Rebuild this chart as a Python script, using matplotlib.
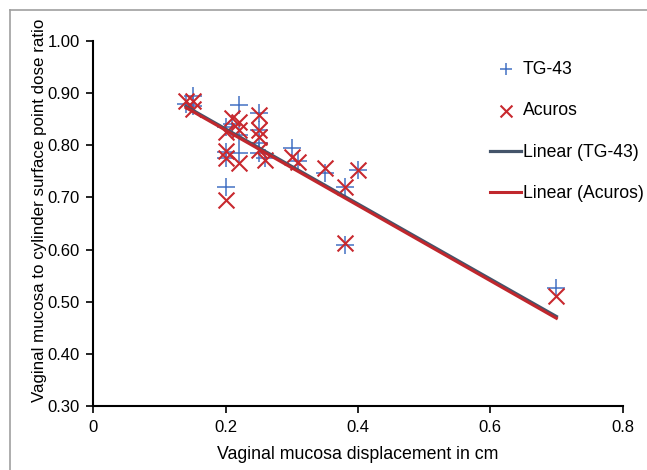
import matplotlib
matplotlib.use("Agg")
import matplotlib.pyplot as plt
from matplotlib.lines import Line2D
import numpy as np

plt.rcParams['font.family'] = ['Liberation Sans', 'DejaVu Sans']

displacement = [0.14, 0.15, 0.15, 0.20, 0.20, 0.20, 0.20, 0.21, 0.22, 0.22, 0.22,
                0.25, 0.25, 0.25, 0.25, 0.26, 0.30, 0.31, 0.35, 0.38, 0.38, 0.40, 0.70]
tg43 = [0.880, 0.895, 0.875, 0.836, 0.788, 0.775, 0.720, 0.840, 0.877, 0.820, 0.785,
        0.861, 0.830, 0.804, 0.785, 0.775, 0.795, 0.770, 0.747, 0.720, 0.608, 0.752, 0.527]
acuros = [0.885, 0.885, 0.870, 0.826, 0.790, 0.775, 0.695, 0.852, 0.845, 0.830, 0.766,
          0.858, 0.830, 0.816, 0.791, 0.772, 0.778, 0.768, 0.756, 0.720, 0.612, 0.752, 0.511]

# Linear trendline coefficients (slope, intercept)
trend_tg43 = [-0.719, 0.975]
trend_acuros = [-0.721, 0.973]

x_ticks = [0, 0.2, 0.4, 0.6, 0.8]
x_tick_labels = ['0', '0.2', '0.4', '0.6', '0.8']
y_ticks = [0.30, 0.40, 0.50, 0.60, 0.70, 0.80, 0.90, 1.00]

blue = '#4472C4'
red = '#C8282E'
line_blue = '#44546A'
line_red = '#C0272D'

fig = plt.figure(figsize=(6.47, 4.70), dpi=100)
ax = fig.add_axes([93.5/647, 1-406/470, (622.5-93.5)/647, (406-41)/470])

x = np.array(displacement)
ax.scatter(x, tg43, marker='+', s=150, color=blue, linewidths=1.1, zorder=3, label='TG-43')
ax.scatter(x, acuros, marker='x', s=130, color=red, linewidths=1.5, zorder=4, label='Acuros')

xs = np.array([x.min(), x.max()])
ax.plot(xs, np.polyval(trend_tg43, xs), color=line_blue, lw=2.3, zorder=5, label='Linear (TG-43)')
ax.plot(xs, np.polyval(trend_acuros, xs), color=line_red, lw=2.2, zorder=6, label='Linear (Acuros)')

ax.set_xlim(0, 0.8)
ax.set_ylim(0.30, 1.00)
ax.set_xticks(x_ticks)
ax.set_xticklabels(x_tick_labels)
ax.set_yticks(y_ticks)
ax.set_yticklabels([f'{v:.2f}' for v in y_ticks])
ax.tick_params(direction='out', length=5, width=1.2, labelsize=12, colors='black', pad=5)
for s in ['top', 'right']:
    ax.spines[s].set_visible(False)
for s in ['left', 'bottom']:
    ax.spines[s].set_linewidth(1.5)

ax.set_xlabel('Vaginal mucosa displacement in cm', fontsize=12.8)
ax.set_ylabel('Vaginal mucosa to cylinder surface point dose ratio', fontsize=12.2)
ax.xaxis.set_label_coords(0.5, -0.11)
ax.yaxis.set_label_coords(-0.087, 0.535)

leg = ax.legend(loc='upper left', bbox_to_anchor=(0.75, 0.945), frameon=False, fontsize=12.7,
                labelspacing=1.38, handlelength=1.75, handletextpad=0.1,
                borderpad=0, borderaxespad=0, markerscale=0.75)

fig.add_artist(Line2D([10/647, 10/647], [0, 1-10/470], color='#A0A0A0', lw=1.2))
fig.add_artist(Line2D([10/647, 1], [1-10/470, 1-10/470], color='#A0A0A0', lw=1.2))

fig.savefig('out.png', dpi=100)
